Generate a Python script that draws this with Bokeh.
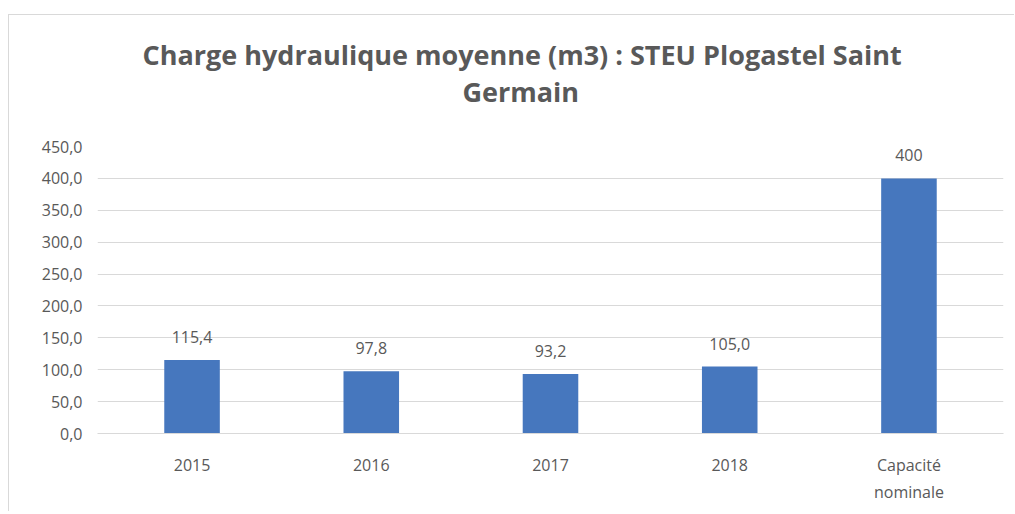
from bokeh.plotting import figure
from bokeh.models import (ColumnDataSource, FactorRange, Range1d, FixedTicker, CustomJSTickFormatter,
                          LabelSet, Title, CategoricalAxis)
from bokeh.core.properties import value
from bokeh.embed import file_html
from bokeh.resources import INLINE

categories = ["2015", "2016", "2017", "2018", "Capacité nominale"]
values = [115.4, 97.8, 93.2, 105.0, 400.0]
value_labels = ["115,4", "97,8", "93,2", "105,0", "400"]
x_label_line1 = ["2015", "2016", "2017", "2018", "Capacité"]
x_label_line2 = ["", "", "", "", "nominale"]
y_ticks = [0, 50, 100, 150, 200, 250, 300, 350, 400, 450]
title_lines = ["Charge hydraulique moyenne (m3) : STEU Plogastel Saint", "Germain"]

TEXT = "#595959"
FONT = "Open Sans"
GRID = "#D9D9D9"

src = ColumnDataSource(dict(cat=categories, val=values, lab=value_labels))

p = figure(frame_width=906, frame_height=287,
           x_range=FactorRange(*categories, range_padding=0.011),
           y_range=Range1d(0, 450), output_backend="svg", toolbar_location=None,
           min_border_left=88, min_border_right=11, min_border_bottom=78, min_border_top=131)
p.margin = (14, 0, 0, 8)
p.styles = {"border-top": "1px solid #D9D9D9", "border-left": "1px solid #D9D9D9"}
p.title = None

spacer = Title(text=" ", text_font=FONT, text_font_size="2px", text_color="white", standoff=32)
t2 = Title(text=title_lines[1], align="left", text_font=FONT, text_font_size="27px",
           text_font_style="bold", text_color=TEXT, standoff=0, offset=365)
t1 = Title(text=title_lines[0], align="left", text_font=FONT, text_font_size="27px",
           text_font_style="bold", text_color=TEXT, standoff=-4, offset=45)
p.add_layout(spacer, "above")
p.add_layout(t2, "above")
p.add_layout(t1, "above")

p.vbar(x="cat", top="val", width=0.31, source=src, fill_color="#4677BE", line_color=None)

labels = LabelSet(x="cat", y="val", text="lab", source=src, text_align="center",
                  text_baseline="bottom", y_offset=17, text_font=value(FONT),
                  text_font_size=value("16px"), text_color=TEXT)
p.add_layout(labels)

p.outline_line_color = None
p.background_fill_color = "white"
p.border_fill_color = "white"

p.xgrid.grid_line_color = None
p.ygrid.grid_line_color = GRID
p.ygrid.grid_line_width = 1

p.yaxis.ticker = FixedTicker(ticks=y_ticks)
p.yaxis.formatter = CustomJSTickFormatter(code="return tick.toFixed(1).replace('.', ',');")
p.yaxis.axis_line_color = None
p.yaxis.major_tick_line_color = None
p.yaxis.minor_tick_line_color = None
p.yaxis.major_label_standoff = 9
p.yaxis.major_label_text_font = FONT
p.yaxis.major_label_text_font_size = "16px"
p.yaxis.major_label_text_color = TEXT

map_code = "const i = cats.indexOf(tick); return i >= 0 ? names[i] : tick;"

ax1 = p.xaxis[0]
ax1.axis_line_color = GRID
ax1.major_tick_line_color = None
ax1.minor_tick_line_color = None
ax1.major_label_standoff = 14
ax1.major_label_text_font = FONT
ax1.major_label_text_font_size = "16px"
ax1.major_label_text_color = TEXT
ax1.formatter = CustomJSTickFormatter(args=dict(cats=categories, names=x_label_line1), code=map_code)

ax2 = CategoricalAxis(axis_line_color=None, major_tick_line_color=None, minor_tick_line_color=None,
                      major_label_standoff=-4, major_label_text_font=FONT,
                      major_label_text_font_size="16px", major_label_text_color=TEXT,
                      formatter=CustomJSTickFormatter(args=dict(cats=categories, names=x_label_line2),
                                                      code=map_code))
p.add_layout(ax2, "below")

open("out.html", "w").write(file_html(p, INLINE))
